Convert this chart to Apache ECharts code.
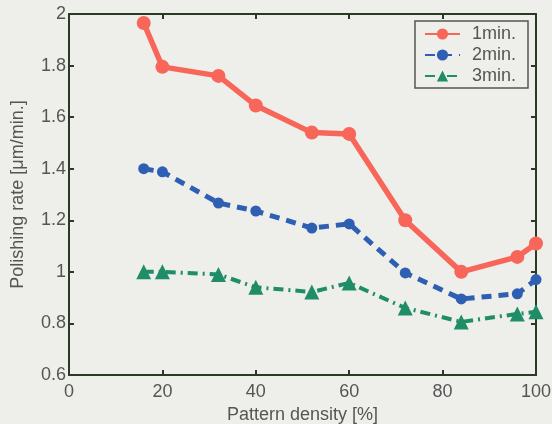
<!DOCTYPE html>
<html><head><meta charset="utf-8">
<script src="https://cdn.jsdelivr.net/npm/echarts@6/dist/echarts.min.js"></script>
<style>html,body{margin:0;padding:0;background:#eeeeeb;}#c{width:552px;height:424px;}</style>
</head><body><div id="c"></div>
<script>
const density = [16, 20, 32, 40, 52, 60, 72, 84, 96, 100];
const rate1 = [1.965, 1.795, 1.76, 1.645, 1.54, 1.535, 1.20, 1.0, 1.058, 1.11];
const rate2 = [1.40, 1.388, 1.267, 1.236, 1.17, 1.186, 0.996, 0.895, 0.915, 0.97];
const rate3 = [1.0, 1.0, 0.99, 0.94, 0.922, 0.957, 0.86, 0.806, 0.837, 0.845];
const names = ['1min.', '2min.', '3min.'];
const xTicks = [0, 20, 40, 60, 80, 100];
const yTicks = [0.6, 0.8, 1, 1.2, 1.4, 1.6, 1.8, 2];

const axisCol = '#2b3a24';
const textCol = '#555555';
const font = 'Liberation Sans, Arial, sans-serif';

function pairs(ys){ return density.map((x,i)=>[x, ys[i]]); }

const chart = echarts.init(document.getElementById('c'));
const xBase = {type:'value', min:0, max:100, interval:20,
  axisLine:{show:true, onZero:false, lineStyle:{color:axisCol, width:2}},
  axisTick:{show:true, inside:true, length:5, lineStyle:{color:axisCol, width:2}},
  splitLine:{show:false}};
const yBase = {type:'value', min:0.6, max:2, interval:0.2,
  axisLine:{show:true, onZero:false, lineStyle:{color:axisCol, width:2}},
  axisTick:{show:true, inside:true, length:5, lineStyle:{color:axisCol, width:2}},
  splitLine:{show:false}};

chart.setOption({
  backgroundColor:'#eeeeeb',
  animation:false,
  grid:{left:69, right:16, top:14, bottom:49, containLabel:false, outerBoundsMode:'none'},
  legend:{
    right:24, top:21, orient:'vertical', itemGap:3, itemWidth:35, itemHeight:14,
    backgroundColor:'#eeeeeb', borderColor:'#555', borderWidth:1.5, padding:[4,12,3,9],
    textStyle:{color:textCol, fontFamily:font, fontSize:18, padding:[0,0,0,7]},
    data:names
  },
  xAxis:[
    Object.assign({}, xBase, {position:'bottom', name:'Pattern density [%]', nameLocation:'middle', nameGap:26,
      nameTextStyle:{color:textCol, fontFamily:font, fontSize:18},
      axisLabel:{color:textCol, fontFamily:font, fontSize:18, margin:8,
        formatter:v=>xTicks.includes(v)?String(v):''}}),
    Object.assign({}, xBase, {position:'top', axisLabel:{show:false}})
  ],
  yAxis:[
    Object.assign({}, yBase, {position:'left', name:'Polishing rate [\u03bcm/min.]', nameLocation:'middle', nameGap:42,
      nameTextStyle:{color:textCol, fontFamily:font, fontSize:18},
      axisLabel:{color:textCol, fontFamily:font, fontSize:18, margin:3,
        formatter:v=>{const r=Math.round(v*10)/10; return yTicks.includes(r)?String(r):'';}}}),
    Object.assign({}, yBase, {position:'right', axisLabel:{show:false}})
  ],
  series:[
    {name:names[0], type:'line', data:pairs(rate1), symbol:'circle', symbolSize:14,
      itemStyle:{color:'#f8665a'}, lineStyle:{color:'#f8665a', width:5.5, type:'solid'}},
    {name:names[1], type:'line', data:pairs(rate2), symbol:'circle', symbolSize:11,
      itemStyle:{color:'#2f5fb3'}, lineStyle:{color:'#2f5fb3', width:5, type:[10,7]}},
    {name:names[2], type:'line', data:pairs(rate3), symbol:'triangle', symbolSize:15,
      itemStyle:{color:'#1f8d68'}, lineStyle:{color:'#1f8d68', width:4, type:[10,5,2,5]}}
  ]
});
</script></body></html>
